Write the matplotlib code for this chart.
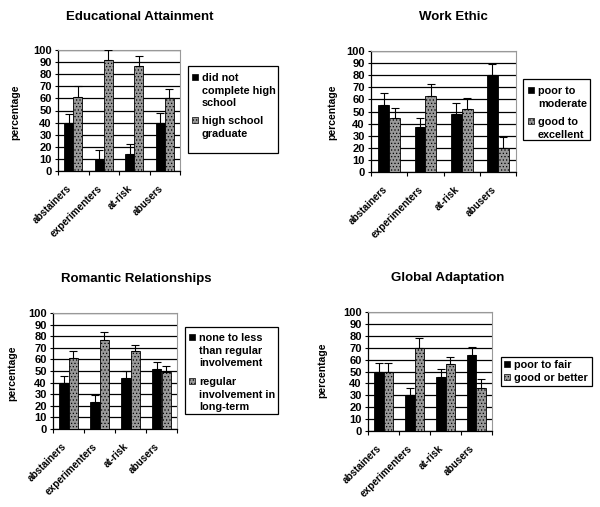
import matplotlib.pyplot as plt
from matplotlib.patches import Rectangle
import numpy as np

plt.rcParams['font.family'] = ['Liberation Sans', 'DejaVu Sans']
plt.rcParams['font.weight'] = 'bold'
plt.rcParams['hatch.linewidth'] = 0.5

groups = ["abstainers", "experimenters", "at-risk", "abusers"]

# Educational Attainment
edu_labels = ["did not\ncomplete high\nschool", "high school\ngraduate"]
edu_low = [40, 9, 14, 40]
edu_low_err = [7, 8, 8, 8]
edu_high = [61, 92, 87, 60]
edu_high_err = [9, 8, 8, 8]

# Work Ethic
work_labels = ["poor to\nmoderate", "good to\nexcellent"]
work_low = [55, 37, 48, 80]
work_low_err = [10, 8, 9, 9]
work_high = [45, 63, 52, 20]
work_high_err = [8, 10, 9, 9]

# Romantic Relationships
rom_labels = ["none to less\nthan regular\ninvolvement", "regular\ninvolvement in\nlong-term"]
rom_low = [40, 23, 44, 52]
rom_low_err = [6, 6, 6, 6]
rom_high = [61, 77, 67, 49]
rom_high_err = [6, 7, 5, 5]

# Global Adaptation
glob_labels = ["poor to fair", "good or better"]
glob_low = [50, 30, 45, 64]
glob_low_err = [7, 6, 7, 7]
glob_high = [50, 70, 56, 36]
glob_high_err = [7, 8, 6, 8]

W, H = 600, 507
fig = plt.figure(figsize=(W / 100, H / 100), dpi=100)

BLACK_STYLE = dict(facecolor='black', edgecolor='black')
GREY_STYLE = dict(facecolor='#999999', edgecolor='black', hatch='.....')


def fx(px):
    return px / W


def fy(py):
    return 1 - py / H


def draw_legend(box, labels, padx, pady, gap):
    # Excel style legend: square marker next to the first line of each entry
    l, t, r, b = box
    fig.patches.append(Rectangle((fx(l), fy(b)), fx(r) - fx(l), fy(t) - fy(b), transform=fig.transFigure,
                                 facecolor='white', edgecolor='black', linewidth=0.9))
    ytop = t + pady
    for lab, style in zip(labels, [BLACK_STYLE, GREY_STYLE]):
        fig.patches.append(Rectangle((fx(l + padx), fy(ytop + 7)), 6 / W, 6 / H, transform=fig.transFigure,
                                     linewidth=0.5, **style))
        fig.text(fx(l + padx + 10), fy(ytop), lab, ha='left', va='top', fontsize=7.8,
                 fontweight='bold', linespacing=1.32)
        ytop += 13 * (lab.count('\n') + 1) + gap


def panel(box, title, title_xy, ylab_xy, labels, low, low_err, high, high_err, leg_box, padx, pady, gap):
    l, t, r, b = box
    ax = fig.add_axes([fx(l), fy(b), (r - l) / W, (b - t) / H])
    x = np.arange(len(groups))
    w = 0.3
    zeros = [0] * len(groups)
    ekw = dict(ecolor='black', elinewidth=0.8, capsize=3, capthick=0.8, zorder=4)
    ax.bar(x - w / 2, low, w, linewidth=0.6, zorder=3, yerr=[zeros, low_err], error_kw=ekw, **BLACK_STYLE)
    ax.bar(x + w / 2, high, w, linewidth=0.6, zorder=3, yerr=[zeros, high_err], error_kw=ekw, **GREY_STYLE)
    ax.set_ylim(0, 100)
    ax.set_xlim(-0.5, len(groups) - 0.5)
    ax.set_yticks(range(0, 101, 10))
    ax.yaxis.grid(True, color='black', linewidth=0.9, zorder=0)
    ax.set_axisbelow(True)
    ax.tick_params(axis='y', labelsize=8, length=2.5, width=0.8, pad=2)
    ax.set_xticks(x)
    ax.set_xticklabels(groups, rotation=45, ha='right', va='top', fontsize=7.2)
    ax.tick_params(axis='x', length=0, pad=9)
    ax.set_xticks(np.arange(-0.5, len(groups), 1), minor=True)
    ax.tick_params(axis='x', which='minor', length=3, width=0.8, direction='out')
    for s in ['top', 'right']:
        ax.spines[s].set_color('#999999')
        ax.spines[s].set_linewidth(0.8)
    for s in ['left', 'bottom']:
        ax.spines[s].set_color('black')
        ax.spines[s].set_linewidth(0.9)
    fig.text(fx(title_xy[0]), fy(title_xy[1]), title, ha='center', va='center', fontsize=9.5, fontweight='bold')
    fig.text(fx(ylab_xy[0]), fy(ylab_xy[1]), 'percentage', ha='center', va='center', rotation=90,
             fontsize=7.5, fontweight='bold')
    draw_legend(leg_box, labels, padx, pady, gap)
    return ax


panel((58, 50, 180, 171), "Educational Attainment", (140, 17), (15, 112),
      edu_labels, edu_low, edu_low_err, edu_high, edu_high_err, (188, 66, 278, 153), 4, 7, 4)
panel((371, 51, 516, 172), "Work Ethic", (453, 17), (332, 112),
      work_labels, work_low, work_low_err, work_high, work_high_err, (523, 79, 590, 140), 5, 7, 5)
panel((53, 313, 177, 429), "Romantic Relationships", (136, 279), (12, 373),
      rom_labels, rom_low, rom_low_err, rom_high, rom_high_err, (185, 327, 278, 414), 4, 6, 5)
panel((368, 312, 492, 431), "Global Adaptation", (448, 278), (322, 370),
      glob_labels, glob_low, glob_low_err, glob_high, glob_high_err, (501, 357, 592, 386), 3, 3, 0)

fig.savefig('out.png', dpi=100, facecolor='white')
